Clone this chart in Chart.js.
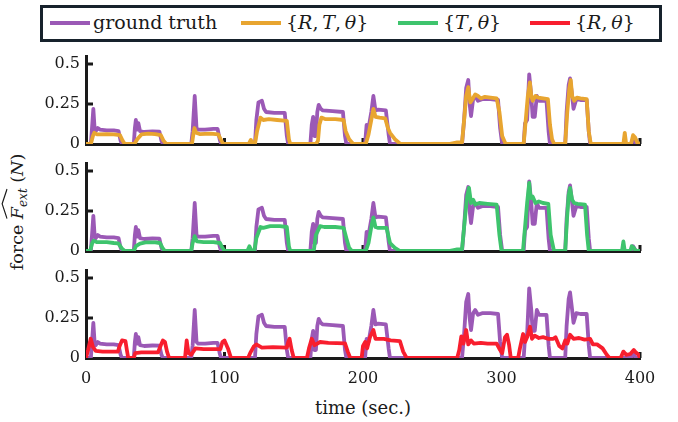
<!DOCTYPE html>
<html>
<head>
<meta charset="utf-8">
<script src="https://cdn.jsdelivr.net/npm/chart.js@4.4.0/dist/chart.umd.min.js"></script>
<style>
  body { margin: 0; width: 678px; height: 422px; overflow: hidden; position: relative; background: #fff; font-family: "DejaVu Serif", serif; color: #1a1a1a; }
  .panel { position: absolute; left: 0; width: 678px; }
  #legend { position: absolute; left: 40px; top: 5px; width: 616px; height: 31px; border: 3px solid #17222c; }
  .key { position: absolute; top: 13px; height: 4px; width: 40px; }
  .lab { position: absolute; top: 2px; font-size: 19px; line-height: 24px; white-space: nowrap; }
  #ylabel { position: absolute; left: 20px; top: 212px; transform: translate(-50%, -50%) rotate(-90deg); font-size: 17.5px; white-space: nowrap; line-height: 22px; }
  .hat { position: relative; display: inline-block; }
  .hat svg { position: absolute; left: 0; top: -5px; width: 100%; height: 7px; }
  #xlabel { position: absolute; left: 363px; top: 407px; transform: translate(-50%, -50%); font-size: 18px; white-space: nowrap; }
</style>
</head>
<body>
<div id="legend"></div>
<div id="ylabel">force <span class="hat"><i>F</i><sub style="font-size:12px"><i>ext</i></sub><svg viewBox="0 0 100 10" preserveAspectRatio="none"><polyline points="2,9 50,2 98,9" fill="none" stroke="#1a1a1a" stroke-width="1.2" vector-effect="non-scaling-stroke"/></svg></span> (<i>N</i>)</div>
<div id="xlabel">time (sec.)</div>
<div class="panel" id="p0"><canvas id="c0"></canvas></div>
<div class="panel" id="p1"><canvas id="c1"></canvas></div>
<div class="panel" id="p2"><canvas id="c2"></canvas></div>
<script>
// --- data (time in s, force in N) ---
const timeTicks = [0, 100, 200, 300, 400];
const forceTicks = [0, 0.25, 0.5];
const seriesNames = ["ground truth", "{R, T, θ}", "{T, θ}", "{R, θ}"];

const groundTruth = [
  [0,0],[3.5,0],[4.5,0.12],[5.3,0.22],[6.2,0.1],[7,0.08],[8.5,0.1],[10,0.09],[15,0.085],[20,0.085],[23.5,0.08],[25,0.02],[26,0],
  [34.5,0],[35.3,0.1],[36,0.15],[37,0.09],[37.8,0.13],[39,0.08],[42,0.075],[48,0.078],[53,0.077],[54.5,0.02],[55.5,0],
  [76,0],[77,0.08],[78.5,0.3],[79.8,0.1],[81,0.09],[86,0.09],[92,0.095],[95,0.095],[96.5,0.03],[97.5,0],
  [122,0],[123,0.15],[124.5,0.26],[127,0.27],[128.5,0.22],[130,0.2],[136,0.195],[143.5,0.195],[145,0.05],[146,0],
  [162,0],[163,0.12],[164,0.17],[165,0.05],[166,0.05],[167,0.2],[168,0.245],[169.5,0.22],[171,0.21],[178,0.205],[185.5,0.2],[187,0.05],[188,0],
  [201.5,0],[202.6,0.12],[204,0.1],[206,0.2],[207.5,0.3],[209,0.21],[211,0.215],[216.5,0.21],[218.5,0.06],[219.5,0],
  [271.5,0],[273,0.15],[274.5,0.35],[276,0.4],[277,0.25],[278,0.175],[279.5,0.28],[281,0.3],[283,0.27],[286,0.28],[292,0.28],[297.5,0.275],[299,0.1],[300.5,0],
  [316,0],[317,0.13],[318.5,0.15],[320,0.435],[321.5,0.3],[322.5,0.17],[324,0.17],[325.5,0.3],[327,0.27],[332.5,0.27],[334,0.08],[335,0],
  [346,0],[347,0.2],[348.5,0.37],[349.5,0.41],[351,0.3],[352,0.22],[354,0.28],[357,0.275],[361.5,0.275],[363,0.08],[364,0],
  [393.5,0],[395,0.03],[397,0],[400,0]
];

const estRTtheta = [
  [0,0],[3.5,0],[5,0.05],[6,0.07],[8,0.06],[15,0.062],[20,0.06],[24.5,0.055],[26.5,0.02],[28,0],
  [35,0],[37,0.03],[40,0.06],[45,0.065],[50,0.062],[54,0.055],[56,0.02],[58,0],
  [76.5,0],[77.5,0.06],[78.3,0.1],[79.5,0.07],[82,0.062],[90,0.065],[95.5,0.06],[97.5,0.025],[99,0],
  [117.5,0],[119,0.025],[120.5,0],
  [122,0],[123.5,0.08],[126,0.165],[128,0.15],[132,0.155],[138,0.15],[145,0.145],[146.5,0.03],[147.5,0],
  [166,0],[167.5,0.02],[168.5,0.12],[170,0.165],[173,0.155],[180,0.155],[186,0.15],[187.5,0.08],[190,0.03],[193,0],
  [202,0],[204,0.06],[206,0.15],[207.5,0.22],[209,0.17],[212,0.165],[216,0.16],[218,0.1],[219.5,0.07],[223,0.03],[227,0],
  [262,0],[268,0.01],[271.5,0.01],[273,0.15],[274.5,0.3],[276,0.355],[277.5,0.26],[279,0.28],[281,0.31],[283,0.3],[285,0.285],[288,0.295],[292,0.29],[296.5,0.285],[298.5,0.2],[300.5,0.05],[303,0],
  [316,0],[317.5,0.15],[319,0.3],[320.5,0.385],[321.5,0.3],[322.5,0.27],[324.5,0.3],[326.5,0.29],[330,0.285],[333.5,0.28],[335,0.12],[336.5,0.03],[338,0],
  [346,0],[347.5,0.2],[349,0.35],[350,0.4],[351,0.3],[352.5,0.27],[354.5,0.29],[357,0.285],[361.5,0.28],[363,0.08],[364.5,0],
  [388,0],[389,0.07],[390,0],[393.5,0],[395,0.055],[396.5,0.04],[398,0.01],[400,0]
];

const estTtheta = [
  [0,0],[3,0],[4.5,0.05],[5.5,0.065],[8,0.055],[15,0.055],[20,0.05],[23.3,0.048],[26,0.015],[28,0],
  [34.5,0],[36,0.03],[39,0.046],[43,0.054],[50,0.054],[53.4,0.05],[55.5,0.015],[57,0],
  [76,0],[77,0.05],[78.5,0.093],[80,0.06],[85,0.055],[92,0.056],[96.7,0.05],[98.5,0.02],[100,0],
  [116.5,0],[118,0.03],[119.5,0],
  [121.5,0],[123,0.08],[126,0.15],[128,0.145],[133,0.155],[140,0.155],[145,0.15],[146.5,0.03],[147.5,0],
  [163.5,0],[164.6,0.01],[166,0.1],[169,0.155],[172,0.15],[180,0.15],[186,0.145],[188,0.08],[190,0.02],[192,0],
  [202,0],[204,0.05],[206,0.15],[207.5,0.21],[209,0.15],[211,0.145],[217,0.145],[219.5,0.05],[223,0.02],[226.7,0],
  [262,0],[268,0.01],[271.5,0.01],[273,0.15],[275,0.33],[276.5,0.395],[278,0.3],[279.6,0.32],[281,0.29],[284,0.3],[290,0.295],[296.5,0.29],[298.5,0.1],[300,0],
  [315.5,0],[317,0.15],[318.5,0.3],[320,0.425],[321,0.33],[322.5,0.34],[324.5,0.3],[327,0.31],[330,0.3],[333.8,0.295],[335.5,0.1],[337.9,0],
  [346,0],[347.3,0.2],[348.5,0.35],[349.5,0.395],[351,0.32],[352.5,0.3],[355,0.295],[360.3,0.29],[361.8,0.1],[363,0],
  [387,0],[388,0.06],[389,0],[393,0],[394,0.03],[395.5,0.02],[397,0],[400,0]
];

const estRtheta = [
  [0,0],[1.5,0.05],[3.4,0.12],[5,0.07],[7,0.045],[12,0.04],[18,0.04],[23,0.04],[24.5,0.08],[26,0.11],[28.5,0.105],[29.5,0.05],[30.5,0],
  [34.5,0],[35.5,0.03],[40,0.035],[46,0.035],[52,0.035],[54,0.08],[55.5,0.11],[57,0.1],[58.5,0.04],[60,0],
  [71.5,0],[72.7,0.11],[74,0.03],[76,0.02],[79,0.06],[85,0.055],[92,0.055],[97,0.055],[98.5,0.1],[100,0.11],[102.5,0.06],[104.7,0],
  [117,0],[118.5,0.03],[121,0.07],[123,0.085],[127,0.065],[135,0.068],[145,0.065],[146,0.1],[147,0.12],[148.5,0.05],[150,0],
  [159.5,0],[161,0.06],[163,0.12],[165,0.08],[167,0.09],[169,0.1],[175,0.095],[187,0.092],[189,0.04],[190.8,0],
  [199,0],[200,0.075],[201.6,0.1],[203,0.06],[205,0.13],[207.5,0.175],[209,0.12],[215,0.12],[220,0.11],[226.7,0.105],[229,0.04],[231.5,0],
  [268,0],[269.5,0.05],[271,0.135],[272.5,0.09],[274.5,0.175],[276,0.085],[278,0.11],[280,0.09],[285,0.095],[290,0.09],[296.5,0.09],[299,0.05],[300.5,0.03],[302.5,0.13],[304,0.145],[305.5,0.08],[306.7,0],
  [312,0],[313.3,0.06],[315.6,0.15],[317,0.1],[318.5,0.13],[320.6,0.195],[322,0.12],[324,0.14],[327,0.125],[330,0.13],[334,0.12],[337.4,0.12],[339,0.13],[341.7,0.075],[344,0.06],[346,0.11],[347.5,0.09],[349.5,0.145],[352,0.12],[356,0.125],[360,0.115],[364,0.12],[366,0.085],[369,0.085],[373,0.06],[376,0.02],[378,0],
  [386,0],[388,0.04],[390,0.02],[393,0.025],[395.5,0.05],[397,0.035],[399,0.02],[400,0]
];

const colors = ["#9b59b6", "#e8a530", "#3ec46d", "#f81e2e"];
const axisColor = "#1a1a1a";

// --- legend (html) ---
const legendSlots = [[7, 50], [198, 243], [355, 400], [487, 532]]; // [key x, text x] inside box
const legend = document.getElementById("legend");
const legendHtml = ["ground truth", "{<i>R</i>,&thinsp;<i>T</i>,&thinsp;<i>θ</i>}", "{<i>T</i>,&thinsp;<i>θ</i>}", "{<i>R</i>,&thinsp;<i>θ</i>}"];
legendSlots.forEach(([kx, tx], i) => {
  legend.insertAdjacentHTML("beforeend",
    `<div class="key" style="left:${kx}px;background:${colors[i]}"></div><div class="lab" style="left:${tx}px">${legendHtml[i]}</div>`);
});

const toXY = pts => pts.map(([x, y]) => ({ x, y }));

// inward ticks like the original axes
const innerTicks = {
  id: "innerTicks",
  beforeDatasetsDraw(chart) {
    const { ctx, chartArea, scales: { x, y } } = chart;
    ctx.save();
    ctx.strokeStyle = axisColor;
    ctx.lineWidth = 3;
    forceTicks.filter(v => v > 0).forEach(v => {
      const py = y.getPixelForValue(v);
      ctx.beginPath();
      ctx.moveTo(chartArea.left, py);
      ctx.lineTo(chartArea.left + 7, py);
      ctx.stroke();
    });
    timeTicks.filter(v => v > 0).forEach(v => {
      const px = x.getPixelForValue(v);
      ctx.beginPath();
      ctx.moveTo(px, chartArea.bottom);
      ctx.lineTo(px, chartArea.bottom - 6);
      ctx.stroke();
    });
    ctx.restore();
  }
};

const areaTops = [56, 163, 270];
const areaH = 88;
const padTop = 8;
const estimates = [estRTtheta, estTtheta, estRtheta];

function makePanel(i) {
  const last = i === 2;
  const bottomH = last ? 40 : 8;
  const box = document.getElementById("p" + i);
  box.style.top = (areaTops[i] - padTop) + "px";
  box.style.height = (padTop + areaH + bottomH) + "px";

  new Chart(document.getElementById("c" + i), {
    type: "line",
    data: {
      datasets: [
        { label: seriesNames[i + 1], data: toXY(estimates[i]), borderColor: colors[i + 1], borderWidth: 3.8 },
        { label: seriesNames[0], data: toXY(groundTruth), borderColor: colors[0], borderWidth: 3.8 }
      ]
    },
    options: {
      responsive: true,
      maintainAspectRatio: false,
      animation: false,
      layout: { padding: { top: padTop, right: 38, left: 0, bottom: 0 } },
      elements: { point: { radius: 0 }, line: { tension: 0, borderJoinStyle: "round", borderCapStyle: "round" } },
      plugins: { legend: { display: false }, tooltip: { enabled: false } },
      scales: {
        x: {
          type: "linear",
          min: 0,
          max: 400,
          afterBuildTicks: s => { s.ticks = timeTicks.map(v => ({ value: v })); },
          afterFit: s => { s.height = bottomH; s.paddingLeft = 0; s.paddingRight = 0; },
          grid: { display: false, drawTicks: false },
          border: { display: true, color: axisColor, width: 3 },
          ticks: {
            display: last,
            padding: 11,
            color: axisColor,
            maxRotation: 0,
            font: { family: "DejaVu Serif", size: 16 }
          }
        },
        y: {
          min: 0,
          max: 0.55,
          afterBuildTicks: s => { s.ticks = forceTicks.map(v => ({ value: v })); },
          afterFit: s => { s.width = 86; s.paddingTop = 0; s.paddingBottom = 0; },
          grid: { display: false, drawTicks: false },
          border: { display: true, color: axisColor, width: 3 },
          ticks: {
            padding: 6,
            color: axisColor,
            font: { family: "DejaVu Serif", size: 16 },
            callback: v => String(v)
          }
        }
      }
    },
    plugins: [innerTicks]
  });
}

[0, 1, 2].forEach(makePanel);
</script>
</body>
</html>
